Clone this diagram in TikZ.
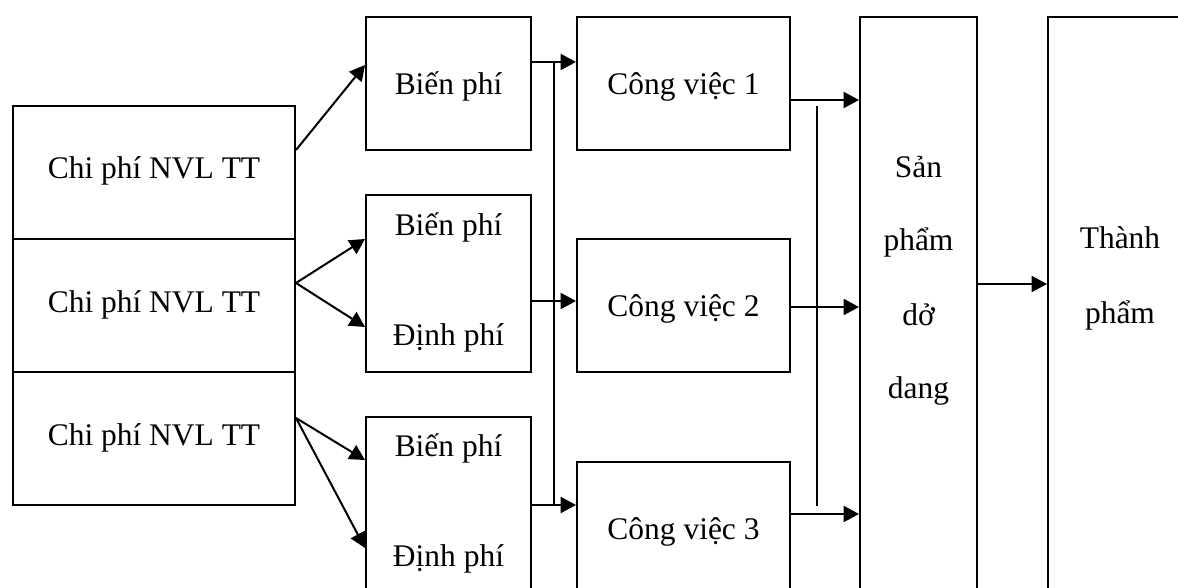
\documentclass[tikz,border=0pt]{standalone}
\usepackage{fontspec}
\setmainfont{Liberation Serif}
\usetikzlibrary{arrows.meta,fit}
\begin{document}
\begin{tikzpicture}[x=0.75pt,y=-0.75pt,
  box/.style={draw,line width=1.5pt,inner sep=0pt,rectangle},
  lbl/.style={anchor=base,inner sep=0pt,font=\fontsize{23.6}{28}\selectfont},
  conn/.style={line width=1.5pt},
  arr/.style={line width=1.5pt,-{Triangle[length=11.5pt,width=12pt]}}]
\useasboundingbox (0,0) rectangle (1178,588);
\clip (0,0) rectangle (1178,588);
% boxes
\node[box,fit={(13,106) (295,239)}] (L1) {};
\node[box,fit={(13,239) (295,372)}] (L2) {};
\node[box,fit={(13,372) (295,505)}] (L3) {};
\node[box,fit={(366,17) (531,150)}] (B1) {};
\node[box,fit={(366,195) (531,372)}] (B2) {};
\node[box,fit={(366,417) (531,640)}] (B3) {};
\node[box,fit={(577,17) (790,150)}] (C1) {};
\node[box,fit={(577,239) (790,372)}] (C2) {};
\node[box,fit={(577,462) (790,640)}] (C3) {};
\node[box,fit={(860,17) (977,640)}] (S) {};
\node[box,fit={(1048,17) (1210,640)}] (T) {};
% labels
\node[lbl] (tL1) at (154,179) {Chi phí NVL TT};
\node[lbl] (tL2) at (154,312.7) {Chi phí NVL TT};
\node[lbl] (tL3) at (154,445) {Chi phí NVL TT};
\node[lbl] (tB1) at (448.5,95) {Biến phí};
\node[lbl] (tB2a) at (448.5,235) {Biến phí};
\node[lbl] (tB2b) at (448.5,345) {Định phí};
\node[lbl] (tB3a) at (448.5,456.7) {Biến phí};
\node[lbl] (tB3b) at (448.5,566.7) {Định phí};
\node[lbl] (tC1) at (683.5,95) {Công việc 1};
\node[lbl] (tC2) at (683.5,316.7) {Công việc 2};
\node[lbl] (tC3) at (683.5,539) {Công việc 3};
\node[lbl] (tS1) at (918.5,178) {Sản};
\node[lbl] (tS2) at (918.5,250) {phẩm};
\node[lbl] (tS3) at (918.5,325) {dở};
\node[lbl] (tS4) at (918.5,398) {dang};
\node[lbl] (tT1) at (1120,248) {Thành};
\node[lbl] (tT2) at (1120,323) {phẩm};
% connectors
\draw[arr] (L1.east |- 0,150) -- (B1.west |- 0,65);
\draw[arr] (L2.east |- 0,283) -- (B2.west |- 0,239);
\draw[arr] (L2.east |- 0,283) -- (B2.west |- 0,327);
\draw[arr] (L3.east |- 0,418) -- (B3.west |- 0,460);
\draw[arr] (L3.east |- 0,418) -- (B3.west |- 0,548);
\draw[arr] (B1.east |- 0,62) -- (C1.west |- 0,62);
\draw[arr] (B2.east |- 0,301) -- (C2.west |- 0,301);
\draw[arr] (B3.east |- 0,505) -- (C3.west |- 0,505);
\draw[conn] (554,62) -- (554,505);
\draw[arr] (C1.east |- 0,100) -- (S.west |- 0,100);
\draw[arr] (C2.east |- 0,307) -- (S.west |- 0,307);
\draw[arr] (C3.east |- 0,514) -- (S.west |- 0,514);
\draw[conn] (817,106) -- (817,506);
\draw[arr] (S.east |- 0,284) -- (T.west |- 0,284);
\end{tikzpicture}
\end{document}
